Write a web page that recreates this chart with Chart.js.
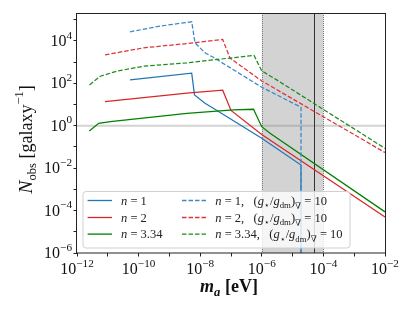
<!DOCTYPE html>
<html><head><meta charset="utf-8">
<script src="https://cdn.jsdelivr.net/npm/chart.js@4.4.1/dist/chart.umd.min.js"></script>
<style>html,body{margin:0;padding:0;background:#fff;overflow:hidden}canvas{display:block}</style>
</head><body>
<canvas id="c" width="415" height="311"></canvas>
<script>
// ---------------- data (x: m_a in eV, y: N_obs per galaxy) ----------------
const n1X  = [5.26e-11, 5.30e-9, 6.53e-9, 1.43e-8, 2.66e-8, 9.93e-7, 1.875e-5, 1.875e-5];
const n1Y  = [144, 299, 28.2, 11.4, 6.64, 0.254, 0.0139, 1e-7];
const n1gX = [5.26e-11, 5.07e-10, 5.30e-9, 6.78e-9, 1.43e-8, 2.66e-8, 9.93e-7, 1.875e-5, 1.875e-5];
const n1gY = [2.67e4, 4.95e4, 7.91e4, 8.05e3, 2.72e3, 1.67e3, 65.2, 7.40, 1e-7];
const n2X  = [8.11e-12, 3.72e-9, 5.38e-8, 1.0e-7, 9.93e-7, 1e-2];
const n2Y  = [13.6, 33.9, 47.0, 5.22, 0.384, 5.04e-5];
const n2gX = [8.11e-12, 1.47e-10, 3.72e-9, 5.38e-8, 9.29e-8, 9.93e-7, 1e-2];
const n2gY = [2190, 4680, 7460, 11500, 1540, 129, 0.0542];
const n3X  = [2.51e-12, 5.07e-12, 1.21e-11, 3.72e-9, 1.19e-7, 5.38e-7, 9.93e-7, 1.85e-6, 1e-2];
const n3Y  = [0.562, 1.30, 1.55, 3.85, 5.52, 5.96, 0.898, 0.438, 8.67e-5];
const n3gX = [2.55e-12, 5.70e-12, 1.99e-11, 1.47e-10, 3.72e-9, 5.58e-7, 9.93e-7, 3.05e-6, 1e-2];
const n3gY = [83.8, 215, 372, 640, 916, 2070, 384, 144, 0.0855];

const seriesN = ['1', '2', '3.34'];
const xMajorExps = [-12, -10, -8, -6, -4, -2];
const xAllExps = [-12, -11, -10, -9, -8, -7, -6, -5, -4, -3, -2];
const yMajorExps = [-6, -4, -2, 0, 2, 4];
const yAllExps = [-6, -5, -4, -3, -2, -1, 0, 1, 2, 3, 4, 5];
const shadeRange = [1e-6, 1e-4];
const vLineValue = 5e-5;
const hLineValue = 1;

// ---------------- styling ----------------
const FONT = '"Liberation Serif","DejaVu Serif",serif';
const BLUE = '#1f77b4', BLUE_D = '#3a88c5', RED = '#d62728', RED_D = '#e0343a', GREEN = '#008000', GREEN_D = '#1a8c1a';
const mk = (xs, ys) => xs.map((x, i) => ({x: x, y: ys[i]}));
const solid = (lab, xs, ys, c) => ({label: lab, data: mk(xs, ys), borderColor: c, borderWidth: 1.25, fill: false, pointRadius: 0});
const dashed = (lab, xs, ys, c) => ({label: lab, data: mk(xs, ys), borderColor: c, borderWidth: 1.25, borderDash: [4.5, 2], fill: false, pointRadius: 0});

const datasets = [
  dashed('n = 3.34, g', n3gX, n3gY, GREEN_D),
  dashed('n = 2, g', n2gX, n2gY, RED_D),
  dashed('n = 1, g', n1gX, n1gY, BLUE_D),
  solid('n = 3.34', n3X, n3Y, GREEN),
  solid('n = 2', n2X, n2Y, RED),
  solid('n = 1', n1X, n1Y, BLUE)
];

function rich(ctx, segs, x, y, size, measureOnly) {
  let cx = x;
  for (const s of segs) {
    const sz = size * (s.s || 1);
    const st = s.st === 'i' ? 'italic ' : s.st === 'b' ? 'bold ' : s.st === 'bi' ? 'italic bold ' : '';
    ctx.font = st + sz.toFixed(2) + 'px ' + FONT;
    if (!measureOnly) ctx.fillText(s.t, cx, y + (s.dy || 0) * size);
    cx += ctx.measureText(s.t).width;
  }
  return cx - x;
}
const powSegs = e => [{t: '10'}, {t: (e < 0 ? '\u2212' : '') + Math.abs(e), s: 0.7, dy: -0.45}];

const deco = {
  id: 'deco',
  beforeDatasetsDraw(chart) {
    const {ctx, chartArea: a, scales: {x, y}} = chart;
    ctx.save();
    const x0 = x.getPixelForValue(shadeRange[0]), x1 = x.getPixelForValue(shadeRange[1]);
    ctx.fillStyle = '#d3d3d3';
    ctx.fillRect(x0, a.top, x1 - x0, a.bottom - a.top);
    ctx.strokeStyle = '#7a7a7a'; ctx.lineWidth = 1; ctx.setLineDash([1, 1]);
    [x0, x1].forEach(px => { ctx.beginPath(); ctx.moveTo(Math.round(px) + 0.5, a.top); ctx.lineTo(Math.round(px) + 0.5, a.bottom); ctx.stroke(); });
    ctx.setLineDash([]);
    const hy = y.getPixelForValue(hLineValue);
    ctx.strokeStyle = 'rgba(128,128,128,0.35)'; ctx.lineWidth = 2;
    ctx.beginPath(); ctx.moveTo(a.left, hy); ctx.lineTo(a.right, hy); ctx.stroke();
    const vx = Math.round(x.getPixelForValue(vLineValue)) + 0.5;
    ctx.strokeStyle = '#333'; ctx.lineWidth = 1;
    ctx.beginPath(); ctx.moveTo(vx, a.top); ctx.lineTo(vx, a.bottom); ctx.stroke();
    ctx.restore();
  },
  afterDraw(chart) {
    const {ctx, chartArea: a, scales: {x, y}} = chart;
    ctx.save();
    // frame
    ctx.strokeStyle = '#222'; ctx.lineWidth = 1;
    ctx.strokeRect(Math.round(a.left) - 0.5, Math.round(a.top) + 0.5, Math.round(a.right) - Math.round(a.left) + 1, Math.round(a.bottom) - Math.round(a.top) - 0.5);
    ctx.fillStyle = '#111';
    ctx.textBaseline = 'alphabetic';
    // x tick labels
    xMajorExps.forEach(e => {
      const px = x.getPixelForValue(Math.pow(10, e));
      const w = rich(ctx, powSegs(e), 0, 0, 16, true);
      rich(ctx, powSegs(e), px - w / 2, a.bottom + 21, 16);
    });
    // y tick labels
    yMajorExps.forEach(e => {
      const py = y.getPixelForValue(Math.pow(10, e));
      const w = rich(ctx, powSegs(e), 0, 0, 16, true);
      rich(ctx, powSegs(e), a.left - 5 - w, py + 5, 16);
    });
    // x title
    const xt = [{t: 'm', st: 'bi'}, {t: 'a', st: 'bi', s: 0.7, dy: 0.22}, {t: ' [eV]', st: 'b'}];
    const xw = rich(ctx, xt, 0, 0, 18, true);
    rich(ctx, xt, (a.left + a.right) / 2 - 2 - xw / 2, 292, 18);
    // y title
    const yt = [{t: 'N', st: 'i', s: 1.1}, {t: 'obs', s: 0.7, dy: 0.25}, {t: ' [galaxy'}, {t: '\u22121', s: 0.7, dy: -0.45}, {t: ']'}];
    const yw = rich(ctx, yt, 0, 0, 18, true);
    ctx.translate(31.5, (a.top + a.bottom) / 2 + 6.5);
    ctx.rotate(-Math.PI / 2);
    rich(ctx, yt, -yw / 2, 0, 18);
    ctx.restore();

    // legend
    ctx.save();
    const lx = a.left + 6, ly = a.bottom - 61.5, lw = 267, lh = 56.5, r = 3;
    ctx.beginPath();
    ctx.moveTo(lx + r, ly); ctx.lineTo(lx + lw - r, ly); ctx.quadraticCurveTo(lx + lw, ly, lx + lw, ly + r);
    ctx.lineTo(lx + lw, ly + lh - r); ctx.quadraticCurveTo(lx + lw, ly + lh, lx + lw - r, ly + lh);
    ctx.lineTo(lx + r, ly + lh); ctx.quadraticCurveTo(lx, ly + lh, lx, ly + lh - r);
    ctx.lineTo(lx, ly + r); ctx.quadraticCurveTo(lx, ly, lx + r, ly); ctx.closePath();
    ctx.fillStyle = 'rgba(255,255,255,0.8)'; ctx.fill();
    ctx.strokeStyle = '#d0d0d0'; ctx.lineWidth = 1; ctx.stroke();
    const rowsY = [ly + 9, ly + 26, ly + 42.6];
    const solidCols = [BLUE, RED, GREEN], dashCols = [BLUE_D, RED_D, GREEN_D];
    ctx.fillStyle = '#222';
    seriesN.forEach((n, i) => {
      const ry = rowsY[i];
      ctx.lineWidth = 1.3;
      ctx.strokeStyle = solidCols[i]; ctx.setLineDash([]);
      ctx.beginPath(); ctx.moveTo(lx + 4.6, ry); ctx.lineTo(lx + 29, ry); ctx.stroke();
      ctx.strokeStyle = dashCols[i]; ctx.setLineDash([4.5, 2]);
      ctx.beginPath(); ctx.moveTo(lx + 99, ry); ctx.lineTo(lx + 123.3, ry); ctx.stroke();
      ctx.setLineDash([]);
      rich(ctx, [{t: 'n', st: 'i'}, {t: ' = ' + n}], lx + 38, ry + 4, 12.5);
      rich(ctx, [{t: 'n', st: 'i'}, {t: ' = ' + n + ',   ('}, {t: 'g', st: 'i'}, {t: '\u22c6', s: 0.7, dy: 0.3},
                 {t: '/'}, {t: 'g', st: 'i'}, {t: 'dm', s: 0.7, dy: 0.3}, {t: ')'}, {t: '\u2207', s: 0.7, dy: 0.35}, {t: ' = 10'}],
           lx + 132.3, ry + 4, 12.5);
    });
    ctx.restore();
  }
};

new Chart(document.getElementById('c'), {
  type: 'line',
  data: {datasets: datasets},
  plugins: [deco],
  options: {
    responsive: false, animation: false, devicePixelRatio: 1,
    layout: {padding: {top: 13, right: 30, left: 0, bottom: 0}},
    plugins: {legend: {display: false}, tooltip: {enabled: false}},
    elements: {point: {radius: 0}, line: {tension: 0}},
    scales: {
      x: {
        type: 'logarithmic', min: 1e-12, max: 1e-2,
        afterFit: s => { s.height = 58; },
        afterBuildTicks: s => { s.ticks = xAllExps.map(e => ({value: Math.pow(10, e)})); },
        ticks: {display: false},
        grid: {drawOnChartArea: false, drawTicks: true, tickLength: 3.5, tickColor: '#222', tickWidth: 1},
        border: {display: false}
      },
      y: {
        type: 'logarithmic', min: 1e-6, max: 2.05e5,
        afterFit: s => { s.width = 77; },
        afterBuildTicks: s => { s.ticks = yAllExps.map(e => ({value: Math.pow(10, e)})); },
        ticks: {display: false},
        grid: {drawOnChartArea: false, drawTicks: true, tickLength: 3.5, tickColor: '#222', tickWidth: 1},
        border: {display: false}
      }
    }
  }
});
</script>
</body></html>
